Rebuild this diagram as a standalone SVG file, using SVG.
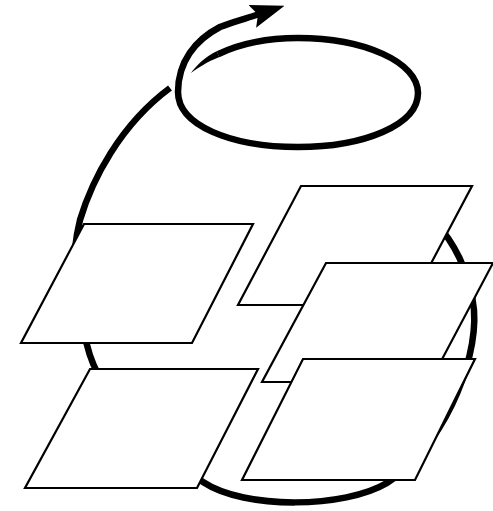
<svg xmlns="http://www.w3.org/2000/svg" width="493" height="511" viewBox="0 0 493 511">
  <style>
    .plane { fill: #ffffff; stroke: #000000; stroke-width: 2.2; stroke-linejoin: miter; }
    .loop { fill: none; stroke: #000000; stroke-width: 6.5; stroke-linecap: butt; }
    .taper { fill: #000000; stroke: none; }
  </style>
  <defs>
    <marker id="head" markerUnits="userSpaceOnUse" viewBox="0 0 34 24" markerWidth="34" markerHeight="24" refX="6" refY="12" orient="auto">
      <path d="M0,0 L34,12 L0,24 L6,12 Z" fill="#000000"/>
    </marker>
  </defs>
  <rect width="493" height="511" fill="#ffffff"/>
  <g id="connectors">
    <path id="big-loop" class="loop" d="M435,222 C452,240 470,270 474,310 C478,365 440,450 387,483 C345,508 245,510 203,482 C160,455 100,400 87,345 C72,300 70,260 80,220 C92,180 120,125 170,88"/>
    <path id="small-loop-tail" class="taper" d="M191,73 C196,66 205,57 216.6,51.3 L219.4,57.1 C207,62 198,68 191,73 Z"/>
    <path id="small-loop" class="loop" marker-end="url(#head)" d="M218,54.2 C236.7,45.2 263.2,38 298,38 C364,38 418,62 418,93 C418,125 364,147 298,147 C230,147 178,125 178,92 C178,62 195,40 220,27 C232,22 246,18.5 258,14.5"/>
  </g>
  <g id="plane-1"><polygon class="plane" points="84,224 253,224 192,343 21,343"/></g>
  <g id="plane-2"><polygon class="plane" points="301,186 472,186 409,305 238,305"/></g>
  <g id="plane-3"><polygon class="plane" points="326,263 493,263 430,382 262,382"/></g>
  <g id="plane-4"><polygon class="plane" points="90,369 258,369 197,488 25,488"/></g>
  <g id="plane-5"><polygon class="plane" points="303,359 475,359 415,480 242,480"/></g>
</svg>
